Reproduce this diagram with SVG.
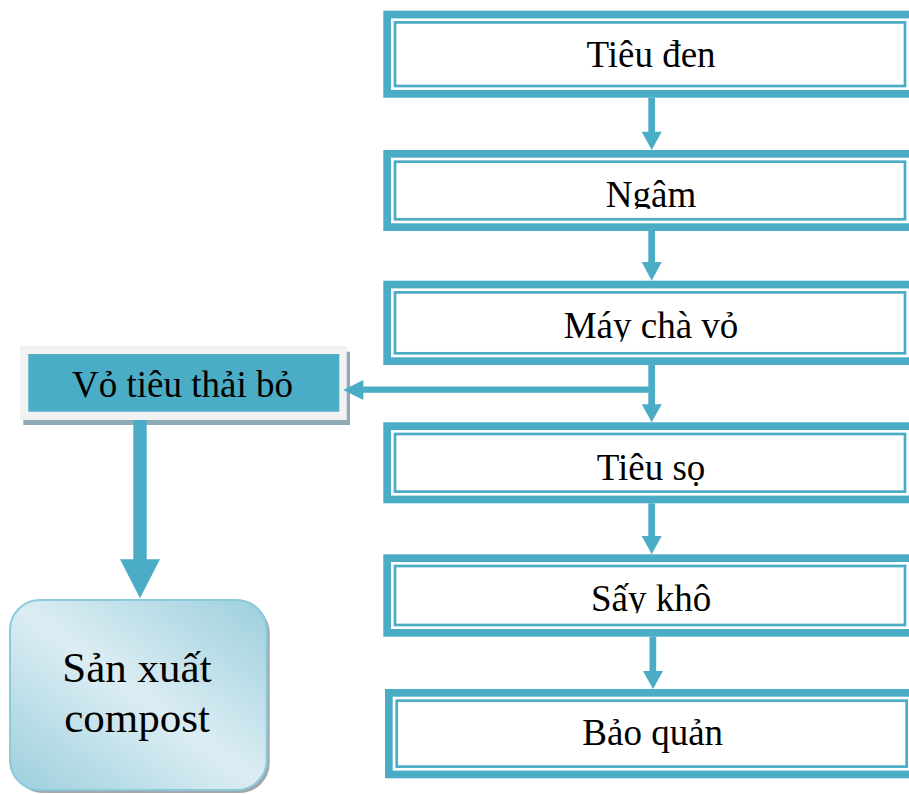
<svg xmlns="http://www.w3.org/2000/svg" width="909" height="794" viewBox="0 0 909 794">
<style>
.thick{fill:#ffffff;stroke:#4bacc6;stroke-width:7.7}
.thin{fill:none;stroke:#4bacc6;stroke-width:2.7}
.lbl{font-family:"Liberation Serif","Times New Roman",serif;font-size:37px;fill:#000;text-anchor:middle}
.big{font-family:"Liberation Serif","Times New Roman",serif;font-size:43px;fill:#000;text-anchor:middle}
.con{fill:#4bacc6;stroke:none}
</style>
<defs>
<linearGradient id="cg" x1="0" y1="1" x2="1" y2="0">
<stop offset="0" stop-color="#9ccfdd"/>
<stop offset="0.5" stop-color="#dcedf3"/>
<stop offset="1" stop-color="#9ccfdd"/>
</linearGradient>
<clipPath id="c2"><rect x="395" y="150" width="510" height="58.7"/></clipPath>
<clipPath id="c3"><rect x="395" y="280" width="510" height="61.7"/></clipPath>
<clipPath id="c5"><rect x="395" y="554" width="510" height="59.3"/></clipPath>
</defs>

<g id="node-tieuden">
<rect class="thick" x="387.15" y="14.55" width="525.7" height="79.3"/>
<rect class="thin" x="395" y="22.4" width="510" height="63.6"/>
<text class="lbl" x="651" y="66.7">Tiêu đen</text>
</g>
<g id="node-ngam">
<rect class="thick" x="387.15" y="153.85" width="525.7" height="73.3"/>
<rect class="thin" x="395" y="161.7" width="510" height="57.6"/>
<text class="lbl" x="651" y="206.7" clip-path="url(#c2)">Ngâm</text>
</g>
<g id="node-maycha">
<rect class="thick" x="387.15" y="284.55" width="525.7" height="76.6"/>
<rect class="thin" x="395" y="292.4" width="510" height="60.9"/>
<text class="lbl" x="651" y="338.3" clip-path="url(#c3)">Máy chà vỏ</text>
</g>
<g id="node-tieuso">
<rect class="thick" x="387.15" y="426.15" width="525.7" height="73.3"/>
<rect class="thin" x="395" y="434" width="510" height="57.6"/>
<text class="lbl" x="651" y="480">Tiêu sọ</text>
</g>
<g id="node-saykho">
<rect class="thick" x="387.15" y="558.15" width="525.7" height="74.7"/>
<rect class="thin" x="395" y="566" width="510" height="59"/>
<text class="lbl" x="651" y="611" clip-path="url(#c5)">Sấy khô</text>
</g>
<g id="node-baoquan">
<rect class="thick" x="388.85" y="692.85" width="525.7" height="81.6"/>
<rect class="thin" x="396.7" y="700.7" width="510" height="65.9"/>
<text class="lbl" x="652.7" y="745">Bảo quản</text>
</g>

<g id="node-votieu">
<rect x="23.3" y="351.7" width="326.7" height="73.3" fill="#8fabb8"/>
<rect x="20" y="346" width="326.7" height="74" fill="#f2f2f2"/>
<rect x="28.3" y="354" width="311" height="57.7" fill="#4bacc6"/>
<text class="lbl" x="182.5" y="397">Vỏ tiêu thải bỏ</text>
</g>

<g id="node-compost">
<rect x="13" y="603" width="256.7" height="190" rx="30" fill="#a0a8ad"/>
<rect x="10" y="600" width="256.7" height="190" rx="30" fill="url(#cg)" stroke="#8ccadb" stroke-width="2"/>
<text class="big" x="137" y="681.7">Sản xuất</text>
<text class="big" x="137" y="731.7">compost</text>
</g>

<g id="connectors">
<rect class="con" x="648.3" y="97.7" width="6.7" height="34.5"/>
<polygon class="con" points="641.7,131.7 661.7,131.7 651.7,150"/>
<rect class="con" x="648.3" y="231" width="6.7" height="31.5"/>
<polygon class="con" points="641.7,262 661.7,262 651.7,280.7"/>
<rect class="con" x="648.3" y="365" width="6.7" height="40"/>
<polygon class="con" points="641.7,404.3 661.7,404.3 651.7,422.3"/>
<rect class="con" x="363" y="386.5" width="292" height="6.3"/>
<polygon class="con" points="363.3,380 363.3,400 343.3,390"/>
<rect class="con" x="648.3" y="503.3" width="6.7" height="33.5"/>
<polygon class="con" points="641.7,536 661.7,536 651.7,554.3"/>
<rect class="con" x="649.5" y="636.7" width="6.7" height="35"/>
<polygon class="con" points="643,671 663,671 653,689"/>
<rect class="con" x="133.3" y="420" width="13.4" height="140"/>
<polygon class="con" points="120,559.3 160,559.3 140,598.3"/>
</g>
</svg>
